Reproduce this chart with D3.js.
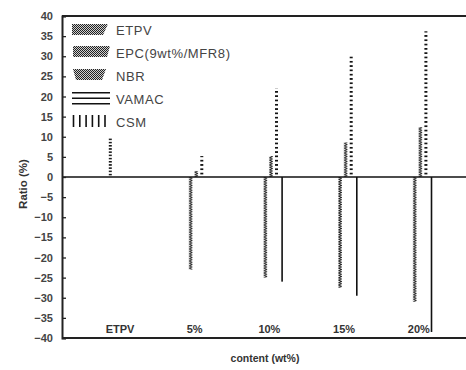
<!DOCTYPE html>
<html>
<head>
<meta charset="utf-8">
<script src="https://cdn.jsdelivr.net/npm/d3@7"></script>
<style>
  html, body { margin: 0; padding: 0; background: #fff; }
  svg { display: block; }
  text { font-family: "Liberation Sans", Arial, sans-serif; }
</style>
</head>
<body>
<svg id="chart" width="466" height="370"></svg>
<script>
// Categories along the x axis
const categories = ["ETPV", "5%", "10%", "15%", "20%"];
// Series (one bar per category each)
const seriesNames = ["ETPV", "EPC(9wt%/MFR8)", "NBR", "VAMAC", "CSM"];
const etpvValues  = [9.7, 0, 0, 0, 0];
const epcValues   = [0, -23, -25, -27.5, -31];
const nbrValues   = [0, 1.5, 5.2, 8.6, 12.4];
const vamacValues = [0, 5.2, 22, 30, 36.2];
const csmValues   = [0, 0, -26, -29.5, -38.5];
const yTicks = [-40, -35, -30, -25, -20, -15, -10, -5, 0, 5, 10, 15, 20, 25, 30, 35, 40];

(function () {
const seriesValues = [etpvValues, epcValues, nbrValues, vamacValues, csmValues];

const svg = d3.select("#chart");
const plotLeft = 62, plotRight = 470, plotTop = 16, plotBottom = 338;

const y = d3.scaleLinear().domain([-40, 40]).range([plotBottom, plotTop]);
const x = d3.scalePoint().domain(categories).range([120, 418.8]);
const xs = d3.scaleBand().domain(seriesNames).range([-12.5, 15.5]);

// Fill patterns
const defs = svg.append("defs");
// fine dashes (dotted look in a narrow column)
function dashPattern(id, period, h) {
  const p = defs.append("pattern").attr("id", id)
    .attr("patternUnits", "userSpaceOnUse").attr("width", 600).attr("height", period);
  p.append("rect").attr("x", 0).attr("y", 0).attr("width", 600).attr("height", h).attr("fill", "#111");
}
dashPattern("pEtpv", 3.2, 1.5);
dashPattern("pVamac", 4.3, 1.7);
// zigzag coil
function zigPattern(id, period) {
  const p = defs.append("pattern").attr("id", id)
    .attr("patternUnits", "userSpaceOnUse").attr("width", 5).attr("height", period);
  p.append("path").attr("d", `M0.3,0 L3.6,${period / 2} L0.3,${period}`)
    .attr("fill", "none").attr("stroke", "#1a1a1a").attr("stroke-width", 0.9);
}
zigPattern("pEpc", 2.4);
zigPattern("pNbr", 2.4);
// dense dots for the legend swatches
const dots = defs.append("pattern").attr("id", "pDots")
  .attr("patternUnits", "userSpaceOnUse").attr("width", 2).attr("height", 2);
dots.append("rect").attr("width", 2).attr("height", 2).attr("fill", "#cfcfcf");
dots.append("rect").attr("width", 1).attr("height", 1).attr("fill", "#222");
dots.append("rect").attr("x", 1).attr("y", 1).attr("width", 1).attr("height", 1).attr("fill", "#222");

const seriesStyle = [
  { fill: "url(#pEtpv)", w: 3 },
  { fill: "url(#pEpc)", w: 4 },
  { fill: "url(#pNbr)", w: 4 },
  { fill: "url(#pVamac)", w: 3 },
  { fill: "#111", w: 1.6 }
];

// Bars
const y0 = y(0);
seriesNames.forEach((s, si) => {
  const st = seriesStyle[si];
  const cx = c => x(c) + xs(s) + xs.bandwidth() / 2;
  const g = svg.append("g");
  const bars = g.selectAll("g.bar")
    .data(categories.map((c, i) => ({ c, v: seriesValues[si][i] })).filter(d => d.v !== 0))
    .join("g").attr("class", "bar")
    .attr("transform", d => `translate(${cx(d.c) - st.w / 2},${y0})`);
  bars.append("rect")
    .attr("x", 0)
    .attr("y", d => Math.min(y(d.v), y0) - y0)
    .attr("width", st.w)
    .attr("height", d => Math.abs(y(d.v) - y0))
    .attr("fill", st.fill);
});

// Zero line
svg.append("line").attr("x1", plotLeft).attr("x2", plotRight).attr("y1", y0).attr("y2", y0)
  .attr("stroke", "#111").attr("stroke-width", 1.6);

// Frame: top, bottom
svg.append("line").attr("x1", plotLeft).attr("x2", plotRight).attr("y1", plotTop).attr("y2", plotTop)
  .attr("stroke", "#222").attr("stroke-width", 2);
svg.append("line").attr("x1", plotLeft).attr("x2", plotRight).attr("y1", plotBottom).attr("y2", plotBottom)
  .attr("stroke", "#222").attr("stroke-width", 2);

// Y axis
const yAxis = d3.axisLeft(y).tickValues(yTicks).tickSize(-4).tickPadding(9).tickFormat(d3.format("d"));
const ya = svg.append("g").attr("transform", `translate(${plotLeft},0)`).call(yAxis);
ya.select(".domain").attr("stroke", "#222").attr("stroke-width", 2);
ya.selectAll(".tick line").attr("stroke", "#222").attr("stroke-width", 1.3);
ya.selectAll(".tick text").attr("font-size", 11).attr("font-weight", "bold").attr("fill", "#444");

// Category labels inside the plot, above the bottom axis
svg.append("g").selectAll("text").data(categories).join("text")
  .attr("x", d => x(d))
  .attr("y", plotBottom - 5)
  .attr("text-anchor", "middle")
  .attr("font-size", 11).attr("font-weight", "bold").attr("fill", "#333")
  .text(d => d);

// Axis titles
svg.append("text").attr("transform", "translate(27,184) rotate(-90)")
  .attr("text-anchor", "middle").attr("font-size", 11.5).attr("font-weight", "bold").attr("fill", "#333")
  .text("Ratio (%)");
svg.append("text").attr("x", 265).attr("y", 362)
  .attr("text-anchor", "middle").attr("font-size", 10.5).attr("font-weight", "bold").attr("fill", "#333")
  .text("content (wt%)");

// Legend
const legendY = [35, 58, 81, 104, 127];
const lg = svg.append("g");
// ETPV swatch
lg.append("polygon").attr("points", "72,24 108,24 103,35 72,35").attr("fill", "url(#pDots)");
// EPC swatch
lg.append("polygon").attr("points", "73,46 110,46 107,57 73,57").attr("fill", "url(#pDots)");
// NBR swatch
lg.append("polygon").attr("points", "73,69 106,69 102,80 76,80").attr("fill", "url(#pDots)");
// VAMAC swatch
[92.7, 98.2, 103.7].forEach(yy => lg.append("line")
  .attr("x1", 72).attr("x2", 110).attr("y1", yy).attr("y2", yy)
  .attr("stroke", "#111").attr("stroke-width", 1.5));
// CSM swatch
d3.range(6).forEach(i => lg.append("line")
  .attr("x1", 73.5 + i * 6.3).attr("x2", 73.5 + i * 6.3).attr("y1", 115).attr("y2", 127)
  .attr("stroke", "#111").attr("stroke-width", 1.6));
lg.selectAll("text.lab").data(seriesNames).join("text").attr("class", "lab")
  .attr("x", 116).attr("y", (d, i) => legendY[i])
  .attr("font-size", 13).attr("letter-spacing", 0.6).attr("fill", "#444")
  .text(d => d);
})();
</script>
</body>
</html>
